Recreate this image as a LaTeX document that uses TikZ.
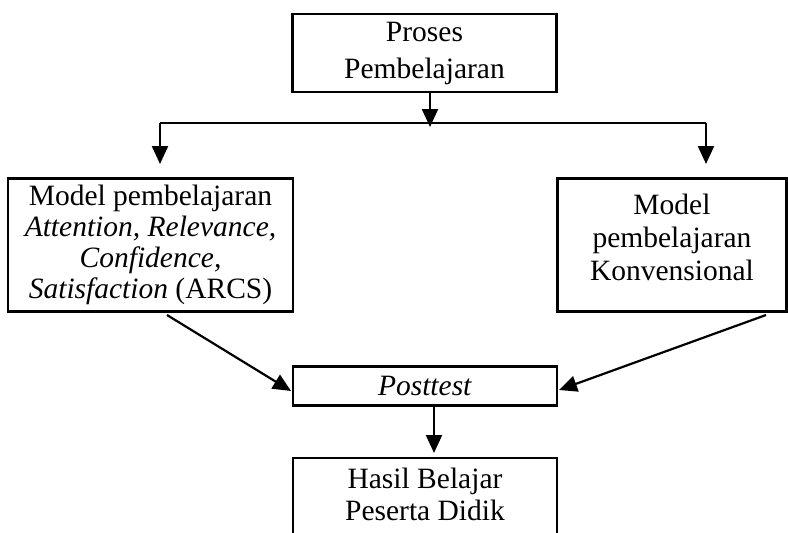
\documentclass[tikz,border=0pt]{standalone}
\usepackage{fontspec}
\setmainfont{Liberation Serif}
\usetikzlibrary{arrows.meta}
\begin{document}
\begin{tikzpicture}[x=1pt,y=-1pt,
  box/.style={draw, line width=2.2pt, rectangle, align=center, inner sep=0pt,
    font=\fontsize{29.5}{31}\selectfont},
  txt/.style={align=center, inner sep=0pt, font=\fontsize{29.5}{33}\selectfont},
  arr/.style={line width=2.2pt, -{Triangle[length=18pt,width=16pt]}},
  ln/.style={line width=2.2pt}]
\useasboundingbox (0,0) rectangle (788,533);
\clip (0,0) rectangle (788,533);
\node[box, minimum width=264pt, minimum height=78pt, font=\fontsize{29.5}{37}\selectfont] (top) at (424.5,53) {Proses\\Pembelajaran};
\node[box, minimum width=285pt, minimum height=133pt] (left) at (150.5,245) {Model pembelajaran\\\textit{Attention, Relevance,}\\\textit{Confidence,}\\\textit{Satisfaction} (ARCS)};
\node[box, minimum width=229pt, minimum height=133pt] (right) at (672,245) {};
\node[txt] (righttext) at (672,237) {Model\\pembelajaran\\Konvensional};
\node[box, minimum width=264pt, minimum height=39pt] (post) at (425,386) {\textit{Posttest}};
\node[box, minimum width=264pt, minimum height=120pt, anchor=north] (hasil) at (425,457) {};
\node[txt, font=\fontsize{29.5}{32}\selectfont] (hasiltext) at (425,494) {Hasil Belajar\\Peserta Didik};
\coordinate (hl) at (160,123);
\coordinate (hr) at (706,123);
\coordinate (hm) at (430,127);
\coordinate (ltip) at (160,164);
\coordinate (rtip) at (706,164);
\coordinate (ls) at (167,315);
\coordinate (rs) at (766,315);
\coordinate (lt) at (291,391);
\coordinate (rt) at (559,390);
\coordinate (ps) at (434,405);
\coordinate (pt) at (434,453);
\draw[ln] (hl) -- (hr);
\draw[arr] (top.south -| hm) -- (hm);
\draw[arr] (hl) -- (ltip);
\draw[arr] (hr) -- (rtip);
\draw[arr] (ls) -- (lt);
\draw[arr] (rs) -- (rt);
\draw[arr] (ps) -- (pt);
\end{tikzpicture}
\end{document}
